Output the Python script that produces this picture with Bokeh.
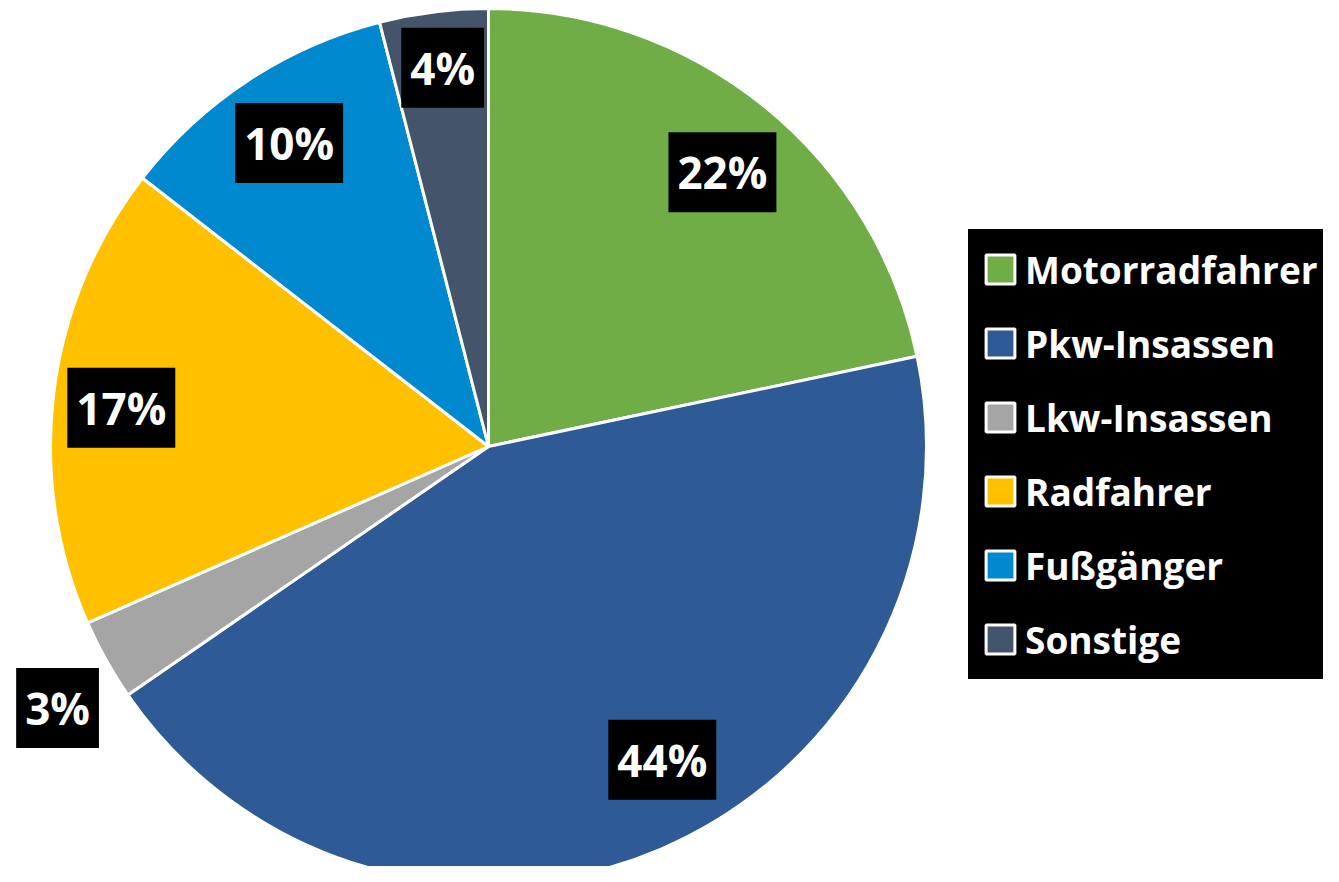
import numpy as np
from bokeh.plotting import figure
from bokeh.models import Range1d, ColumnDataSource, Legend, LegendItem
from bokeh.core.properties import value
from bokeh.embed import file_html
from bokeh.resources import INLINE

# ---- data ----
categories = ["Motorradfahrer", "Pkw-Insassen", "Lkw-Insassen", "Radfahrer", "Fußgänger", "Sonstige"]
shares = [21.7, 43.7, 3.0, 17.1, 10.5, 4.0]
labels = ["22%", "44%", "3%", "17%", "10%", "4%"]
colors = ["#70AD47", "#2E5A95", "#A5A5A5", "#FFC000", "#0089CF", "#44546A"]

# ---- layout: label placement (fraction of radius, angular nudge in degrees, clockwise) ----
label_radius = [0.823, 0.818, 1.151, 0.843, 0.829, 0.871]
label_nudge_deg = [1.4, -5.8, -2.1, -1.0, 0.0, 0.3]

W, H = 1323, 866
R_PX = 438.0
cx_px, cy_px = 488.0, 446.0  # from top-left of canvas

p = figure(width=W, height=H, output_backend="svg", toolbar_location=None,
           min_border=0, border_fill_color="white", background_fill_color="white",
           outline_line_color=None,
           x_range=Range1d(-cx_px / R_PX, (W - cx_px) / R_PX),
           y_range=Range1d(-(H - cy_px) / R_PX, cy_px / R_PX))
p.axis.visible = False
p.grid.visible = False

total = float(sum(shares))
frac = np.array(shares) / total
cum_end = np.cumsum(frac)
cum_start = cum_end - frac
start = np.pi / 2 - 2 * np.pi * cum_start
end = np.pi / 2 - 2 * np.pi * cum_end
mid = (start + end) / 2 - np.radians(label_nudge_deg)

src = ColumnDataSource(dict(cat=categories, start=start, end=end, color=colors,
                            lx=np.array(label_radius) * np.cos(mid),
                            ly=np.array(label_radius) * np.sin(mid),
                            label=labels))

w = p.wedge(x=0, y=0, radius=1.0, start_angle="start", end_angle="end",
            direction="clock", fill_color="color", line_color="white",
            line_width=3, source=src)

p.text(x="lx", y="ly", text="label", source=src, text_color="white",
       text_font=value("Open Sans"), text_font_style="bold",
       text_font_size="44px", text_align="center", text_baseline="middle",
       background_fill_color="black", padding=(9, 10))

items = [LegendItem(label=c, renderers=[w], index=i) for i, c in enumerate(categories)]
legend = Legend(items=items, location=(968, 187), orientation="vertical",
                background_fill_color="black", background_fill_alpha=1.0,
                border_line_color="black", border_line_width=14,
                border_line_join="miter", label_text_color="white",
                label_text_font="Open Sans", label_text_font_style="bold",
                label_text_font_size="37px", glyph_width=36, glyph_height=36,
                label_height=52, label_standoff=7, spacing=22, padding=0,
                margin=0)
p.add_layout(legend, "center")

open("out.html", "w").write(file_html(p, INLINE))
